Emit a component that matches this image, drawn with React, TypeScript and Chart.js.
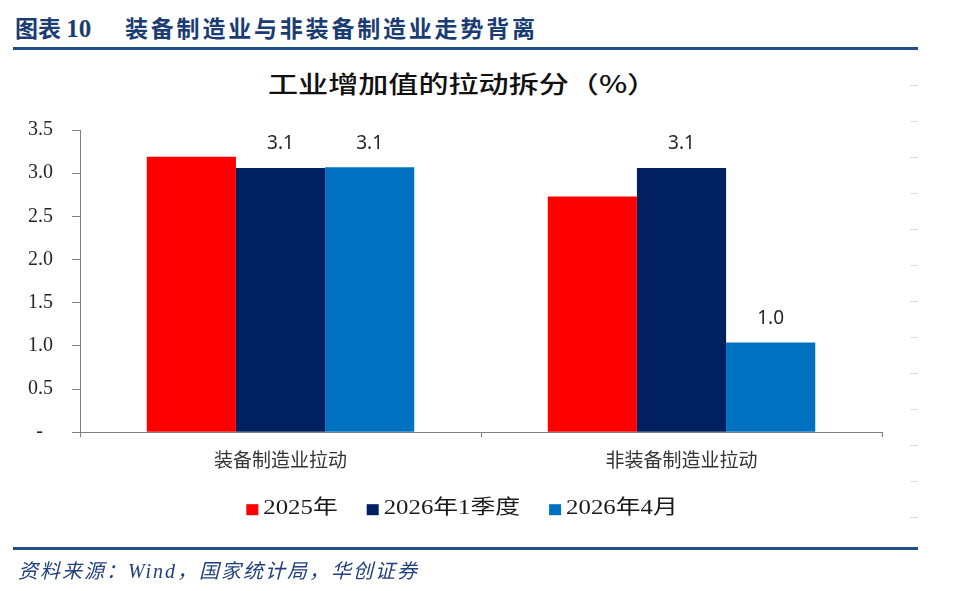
import React, { useEffect, useRef } from 'react';
import { Chart, registerables } from 'chart.js';

Chart.register(...registerables);

// ---- data ----
const categories = ['装备制造业拉动', '非装备制造业拉动'];
const seriesNames = ['2025年', '2026年1季度', '2026年4月'];
const seriesColors = ['#FF0000', '#002060', '#0070C0'];
const values2025 = [3.19, 2.73];
const values2026Q1 = [3.06, 3.06];
const values2026Apr = [3.07, 1.04];
const showValueLabels = [false, true, true];
const yTickLabels = ['-  ', '0.5', '1.0', '1.5', '2.0', '2.5', '3.0', '3.5'];
const yMin = 0;
const yMax = 3.5;
const yStep = 0.5;

const chartTitle = '工业增加值的拉动拆分（%）';
const figureNo = '图表 ';
const figureNum = '10';
const figureTitle = '装备制造业与非装备制造业走势背离';
const sourceText = '资料来源：Wind，国家统计局，华创证券';

const valueLabelPlugin = {
  id: 'valueLabels',
  afterDatasetsDraw(chart: any) {
    const ctx = chart.ctx;
    ctx.save();
    ctx.font = '19px "Noto Sans", "DejaVu Sans", sans-serif';
    ctx.fillStyle = '#262626';
    ctx.textAlign = 'center';
    ctx.textBaseline = 'middle';
    chart.data.datasets.forEach((ds: any, i: number) => {
      if (!showValueLabels[i]) return;
      const meta = chart.getDatasetMeta(i);
      meta.data.forEach((bar: any, j: number) => {
        const v = ds.data[j];
        ctx.fillText((Math.round(v * 10) / 10).toFixed(1), bar.x, bar.y - 24);
      });
    });
    ctx.restore();
  },
};

const stretchedLegendPlugin = {
  id: 'stretchedLegend',
  afterDraw(chart: any) {
    const ctx = chart.ctx;
    const area = chart.chartArea;
    const sx = 1.24;
    const box = 12;
    const gapText = 5;
    const gapItem = 29;
    ctx.save();
    ctx.font = '20px "Liberation Serif", "Noto Sans CJK SC", serif';
    const items = chart.data.datasets.map((ds: any) => ({
      text: ds.label,
      color: ds.backgroundColor,
      w: ctx.measureText(ds.label).width * sx,
    }));
    const total =
      items.reduce((s: number, it: any) => s + box + gapText + it.w, 0) +
      gapItem * (items.length - 1);
    let x = (area.left + area.right) / 2 - 19 - total / 2;
    const y = area.bottom + 77;
    items.forEach((it: any) => {
      ctx.fillStyle = it.color;
      ctx.fillRect(x, y - 5, box, 11);
      x += box + gapText;
      ctx.save();
      ctx.translate(x, y);
      ctx.scale(sx, 1);
      ctx.fillStyle = '#1a1a1a';
      ctx.textBaseline = 'middle';
      ctx.textAlign = 'left';
      ctx.fillText(it.text, 0, 0);
      ctx.restore();
      x += it.w + gapItem;
    });
    ctx.restore();
  },
};

export default function App() {
  const canvasRef = useRef<HTMLCanvasElement | null>(null);

  useEffect(() => {
    if (!canvasRef.current) return;
    const seriesValues = [values2025, values2026Q1, values2026Apr];
    const chart = new Chart(canvasRef.current, {
      type: 'bar',
      data: {
        labels: categories,
        datasets: seriesNames.map((name, i) => ({
          label: name,
          data: seriesValues[i],
          backgroundColor: seriesColors[i],
          borderWidth: 0,
          categoryPercentage: 0.667,
          barPercentage: 1,
        })),
      },
      options: {
        animation: false,
        responsive: false,
        devicePixelRatio: 1,
        layout: { padding: { top: 130, right: 78, bottom: 109, left: 0 } },
        plugins: {
          legend: { display: false },
          tooltip: { enabled: false },
          title: { display: false },
        },
        scales: {
          x: {
            grid: {
              drawOnChartArea: false,
              tickLength: 5,
              color: '#7f7f7f',
              offset: true,
            },
            border: { color: '#7f7f7f', width: 1 },
            ticks: {
              font: { family: '"Noto Sans CJK SC", sans-serif', size: 19 },
              color: '#333333',
              padding: 11,
              maxRotation: 0,
            },
          },
          y: {
            min: yMin,
            max: yMax,
            grid: {
              drawOnChartArea: false,
              tickLength: 8,
              color: '#7f7f7f',
            },
            border: { color: '#7f7f7f', width: 1 },
            ticks: {
              stepSize: yStep,
              font: { family: '"Liberation Serif", serif', size: 20 },
              color: '#262626',
              padding: 19,
              callback: (_v: any, i: number) => yTickLabels[i],
            },
            afterFit: (s: any) => {
              s.width = 80;
            },
          },
        },
      },
      plugins: [valueLabelPlugin, stretchedLegendPlugin],
    });
    return () => chart.destroy();
  }, []);

  const blue = '#1B3C73';
  return (
    <div
      style={{
        position: 'fixed',
        left: 0,
        top: 0,
        width: 960,
        height: 591,
        background: '#ffffff',
        overflow: 'hidden',
      }}
    >
      <div
        style={{
          position: 'absolute',
          left: 15,
          top: 14,
          whiteSpace: 'nowrap',
          color: blue,
          fontFamily: '"Noto Sans CJK SC", sans-serif',
          fontWeight: 700,
          fontSize: 23,
          lineHeight: '26px',
        }}
      >
        <span>{figureNo}</span>
        <span style={{ fontFamily: '"Liberation Serif", serif', fontSize: 25 }}>{figureNum}</span>
        <span style={{ position: 'absolute', left: 110, top: 0, letterSpacing: 2.8 }}>{figureTitle}</span>
      </div>
      <div
        style={{
          position: 'absolute',
          left: 13,
          top: 47,
          width: 905,
          height: 3,
          background: '#1F4E8A',
        }}
      />
      <div
        style={{
          position: 'absolute',
          left: 268,
          top: 71,
          whiteSpace: 'nowrap',
          color: '#111111',
          fontFamily: '"Noto Sans CJK SC", sans-serif',
          fontWeight: 500,
          fontSize: 23.5,
          lineHeight: '24px',
          transform: 'scaleX(1.28)',
          transformOrigin: 'left center',
        }}
      >
        {chartTitle}
      </div>
      <div
        style={{
          position: 'absolute',
          left: 910,
          top: 85,
          width: 8,
          height: 434,
          background:
            'repeating-linear-gradient(to bottom, #dedede 0px, #dedede 1px, transparent 1px, transparent 36px)',
        }}
      />
      <canvas
        ref={canvasRef}
        width={960}
        height={591}
        style={{ position: 'absolute', left: 0, top: 0, width: 960, height: 591 }}
      />
      <div
        style={{
          position: 'absolute',
          left: 13,
          top: 547,
          width: 905,
          height: 3,
          background: '#1F4E8A',
        }}
      />
      <div
        style={{
          position: 'absolute',
          left: 18,
          top: 559,
          whiteSpace: 'nowrap',
          color: '#1F3F7F',
          fontFamily: '"Liberation Serif", "Noto Sans CJK SC", serif',
          fontStyle: 'italic',
          fontSize: 20,
          lineHeight: '24px',
          letterSpacing: 2,
        }}
      >
        {sourceText}
      </div>
    </div>
  );
}
